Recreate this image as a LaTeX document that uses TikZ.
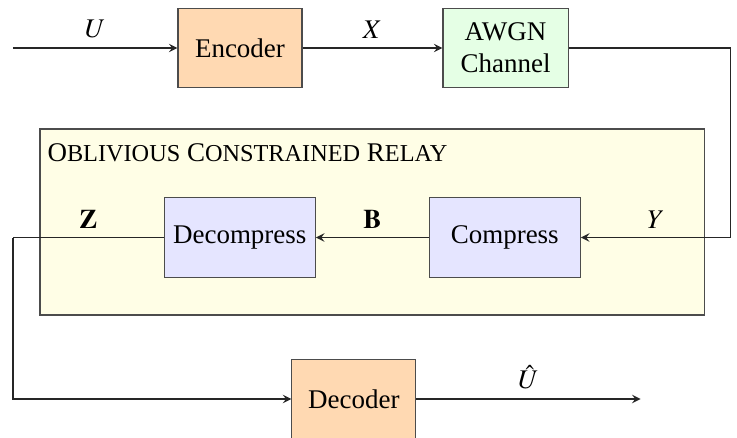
\documentclass[tikz,border=0pt]{standalone}
\usepackage{mathptmx}
\usepackage{fontspec}
\setmainfont{Liberation Serif}
\usetikzlibrary{arrows}

\begin{document}
\begin{tikzpicture}
        [>=stealth,
        block/.style={rectangle,draw=black!70,align=center,inner sep=0pt,minimum height=1.04cm},
        coder/.style={block,fill=orange!30,minimum width=1.615cm},
        channelbox/.style={block,fill=green!10,minimum width=1.63cm},
        relayblock/.style={block,fill=blue!10,minimum width=1.97cm},
        relaybox/.style={rectangle,draw=black!70,fill=yellow!10,minimum width=8.66cm,minimum height=2.423cm},
        link/.style={draw=black!85},
        ]
        \useasboundingbox (0,0) rectangle (9.6,-5.705);
        % relay frame
        \node[relaybox] (relay) at (4.851,-2.892) {};
        \node[anchor=west,inner sep=0pt] (relay-title) at (0.612,-1.993)
            {O{\small BLIVIOUS} C{\small ONSTRAINED} R{\small ELAY}};
        % blocks
        \node[coder] (encoder) at (3.126,-0.625) {Encoder};
        \node[channelbox] (channel) at (6.585,-0.625) {AWGN\\Channel};
        \node[relayblock] (decompress) at (3.123,-3.094) {Decompress};
        \node[relayblock] (compress) at (6.575,-3.094) {Compress};
        \node[coder] (decoder) at (4.61,-5.197) {Decoder};
        % bends and free ends
        \coordinate (source) at (0.169,-0.625);
        \coordinate (bend-top) at (9.52,-0.625);
        \coordinate (bend-right) at (9.52,-3.094);
        \coordinate (bend-left) at (0.169,-3.094);
        \coordinate (sink) at (8.344,-5.197);
        % connectors
        \draw[link,->] (source) -- node[above] {$U$} (encoder);
        \draw[link,->] (encoder) -- node[above] {$X$} (channel);
        \draw[link] (channel) -- (bend-top) -- (bend-right);
        \draw[link,->] (bend-right) -- node[above] {$Y$} (compress);
        \draw[link,->] (compress) -- node[above] {$\mathbf{B}$} (decompress);
        \draw[link] (decompress) -- node[above] {$\mathbf{Z}$} (bend-left);
        \draw[link,->] (bend-left) |- (decoder);
        \draw[link,->] (decoder) -- node[above] {$\hat{U}$} (sink);
    \end{tikzpicture}
\end{document}
